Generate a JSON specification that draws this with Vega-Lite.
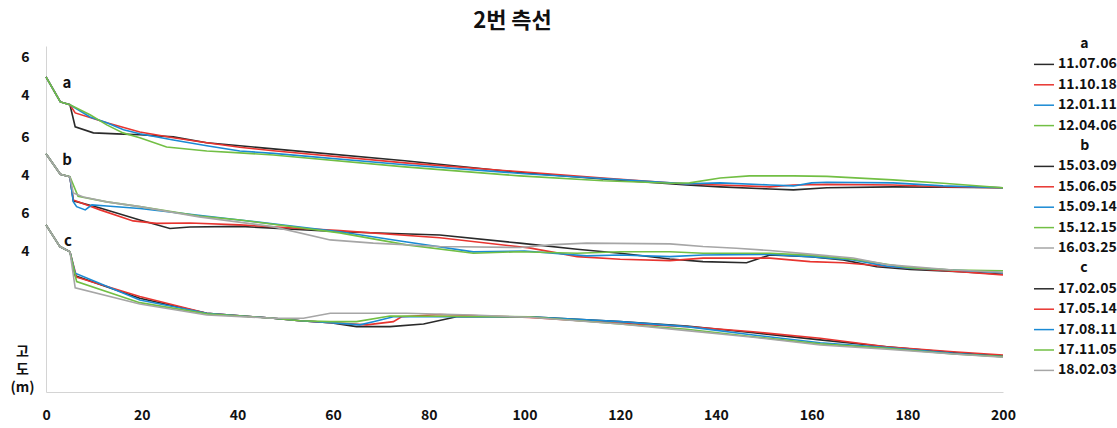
{
  "$schema": "https://vega.github.io/schema/vega-lite/v6.json",
  "width": 957,
  "height": 346,
  "autosize": {"type": "none"},
  "padding": {"left": 46, "top": 46, "right": 114, "bottom": 36},
  "background": "white",
  "title": {"text": "2번 측선", "font": "Noto Sans CJK KR", "fontSize": 22, "fontWeight": "bold", "color": "#111111", "anchor": "middle", "dx": -12, "offset": 0},
  "config": {"view": {"stroke": null}, "font": "Noto Sans CJK KR"},
  "layer": [
    {
      "data": {"values": [
        {"g":"a","d":"11.07.06","x":0,"e":4.98},{"g":"a","d":"11.07.06","x":3,"e":3.66},{"g":"a","d":"11.07.06","x":5,"e":3.51},{"g":"a","d":"11.07.06","x":6.1,"e":2.35},{"g":"a","d":"11.07.06","x":9.9,"e":2.03},{"g":"a","d":"11.07.06","x":14.8,"e":1.98},{"g":"a","d":"11.07.06","x":19.6,"e":1.93},{"g":"a","d":"11.07.06","x":26.6,"e":1.82},{"g":"a","d":"11.07.06","x":33.6,"e":1.51},{"g":"a","d":"11.07.06","x":40.5,"e":1.35},{"g":"a","d":"11.07.06","x":47.5,"e":1.19},{"g":"a","d":"11.07.06","x":75,"e":0.56},{"g":"a","d":"11.07.06","x":99,"e":-0.05},{"g":"a","d":"11.07.06","x":116.4,"e":-0.39},{"g":"a","d":"11.07.06","x":133.9,"e":-0.71},{"g":"a","d":"11.07.06","x":140.9,"e":-0.81},{"g":"a","d":"11.07.06","x":151.3,"e":-0.92},{"g":"a","d":"11.07.06","x":156.2,"e":-0.97},{"g":"a","d":"11.07.06","x":163.2,"e":-0.86},{"g":"a","d":"11.07.06","x":177,"e":-0.81},{"g":"a","d":"11.07.06","x":187.5,"e":-0.83},{"g":"a","d":"11.07.06","x":200,"e":-0.86},
        {"g":"a","d":"11.10.18","x":0,"e":4.98},{"g":"a","d":"11.10.18","x":3,"e":3.66},{"g":"a","d":"11.10.18","x":5,"e":3.51},{"g":"a","d":"11.10.18","x":6.1,"e":3.08},{"g":"a","d":"11.10.18","x":12.7,"e":2.56},{"g":"a","d":"11.10.18","x":19.6,"e":2.08},{"g":"a","d":"11.10.18","x":26.6,"e":1.77},{"g":"a","d":"11.10.18","x":33.6,"e":1.51},{"g":"a","d":"11.10.18","x":40.5,"e":1.27},{"g":"a","d":"11.10.18","x":47.5,"e":1.09},{"g":"a","d":"11.10.18","x":75,"e":0.45},{"g":"a","d":"11.10.18","x":100,"e":-0.03},{"g":"a","d":"11.10.18","x":116.4,"e":-0.34},{"g":"a","d":"11.10.18","x":133.9,"e":-0.66},{"g":"a","d":"11.10.18","x":140.9,"e":-0.71},{"g":"a","d":"11.10.18","x":151.3,"e":-0.81},{"g":"a","d":"11.10.18","x":156.2,"e":-0.71},{"g":"a","d":"11.10.18","x":163.2,"e":-0.68},{"g":"a","d":"11.10.18","x":177,"e":-0.71},{"g":"a","d":"11.10.18","x":187.5,"e":-0.8},{"g":"a","d":"11.10.18","x":200,"e":-0.86},
        {"g":"a","d":"12.01.11","x":0,"e":4.98},{"g":"a","d":"12.01.11","x":3,"e":3.66},{"g":"a","d":"12.01.11","x":5,"e":3.51},{"g":"a","d":"12.01.11","x":9.2,"e":2.87},{"g":"a","d":"12.01.11","x":12.7,"e":2.56},{"g":"a","d":"12.01.11","x":16.2,"e":2.19},{"g":"a","d":"12.01.11","x":19.6,"e":1.98},{"g":"a","d":"12.01.11","x":26.6,"e":1.66},{"g":"a","d":"12.01.11","x":33.6,"e":1.35},{"g":"a","d":"12.01.11","x":40.5,"e":1.08},{"g":"a","d":"12.01.11","x":47.5,"e":0.95},{"g":"a","d":"12.01.11","x":75,"e":0.35},{"g":"a","d":"12.01.11","x":100,"e":-0.12},{"g":"a","d":"12.01.11","x":116.4,"e":-0.37},{"g":"a","d":"12.01.11","x":133.9,"e":-0.65},{"g":"a","d":"12.01.11","x":140.9,"e":-0.6},{"g":"a","d":"12.01.11","x":151.3,"e":-0.71},{"g":"a","d":"12.01.11","x":156.2,"e":-0.76},{"g":"a","d":"12.01.11","x":160,"e":-0.6},{"g":"a","d":"12.01.11","x":163.2,"e":-0.57},{"g":"a","d":"12.01.11","x":177,"e":-0.6},{"g":"a","d":"12.01.11","x":187.5,"e":-0.76},{"g":"a","d":"12.01.11","x":200,"e":-0.86},
        {"g":"a","d":"12.04.06","x":0,"e":4.98},{"g":"a","d":"12.04.06","x":3,"e":3.66},{"g":"a","d":"12.04.06","x":5,"e":3.51},{"g":"a","d":"12.04.06","x":9.2,"e":2.98},{"g":"a","d":"12.04.06","x":12.7,"e":2.45},{"g":"a","d":"12.04.06","x":16.1,"e":2.03},{"g":"a","d":"12.04.06","x":19.6,"e":1.77},{"g":"a","d":"12.04.06","x":25.2,"e":1.29},{"g":"a","d":"12.04.06","x":33.6,"e":1.08},{"g":"a","d":"12.04.06","x":40.5,"e":0.98},{"g":"a","d":"12.04.06","x":47.5,"e":0.87},{"g":"a","d":"12.04.06","x":75,"e":0.24},{"g":"a","d":"12.04.06","x":99,"e":-0.23},{"g":"a","d":"12.04.06","x":116.4,"e":-0.49},{"g":"a","d":"12.04.06","x":131,"e":-0.62},{"g":"a","d":"12.04.06","x":134.5,"e":-0.6},{"g":"a","d":"12.04.06","x":140.9,"e":-0.34},{"g":"a","d":"12.04.06","x":147,"e":-0.23},{"g":"a","d":"12.04.06","x":156.2,"e":-0.23},{"g":"a","d":"12.04.06","x":163.2,"e":-0.26},{"g":"a","d":"12.04.06","x":177,"e":-0.44},{"g":"a","d":"12.04.06","x":187.5,"e":-0.62},{"g":"a","d":"12.04.06","x":200,"e":-0.86},
        {"g":"b","d":"15.03.09","x":0,"e":5.13},{"g":"b","d":"15.03.09","x":3,"e":4.05},{"g":"b","d":"15.03.09","x":5,"e":3.92},{"g":"b","d":"15.03.09","x":5.7,"e":2.66},{"g":"b","d":"15.03.09","x":11.3,"e":2.28},{"g":"b","d":"15.03.09","x":19.6,"e":1.65},{"g":"b","d":"15.03.09","x":25.9,"e":1.2},{"g":"b","d":"15.03.09","x":30.1,"e":1.28},{"g":"b","d":"15.03.09","x":40.5,"e":1.31},{"g":"b","d":"15.03.09","x":61.4,"e":1.03},{"g":"b","d":"15.03.09","x":82.3,"e":0.86},{"g":"b","d":"15.03.09","x":99,"e":0.43},{"g":"b","d":"15.03.09","x":111,"e":0.11},{"g":"b","d":"15.03.09","x":120,"e":-0.1},{"g":"b","d":"15.03.09","x":130.4,"e":-0.4},{"g":"b","d":"15.03.09","x":137.3,"e":-0.54},{"g":"b","d":"15.03.09","x":146.4,"e":-0.6},{"g":"b","d":"15.03.09","x":151.3,"e":-0.19},{"g":"b","d":"15.03.09","x":159.7,"e":-0.28},{"g":"b","d":"15.03.09","x":166.6,"e":-0.45},{"g":"b","d":"15.03.09","x":173.6,"e":-0.81},{"g":"b","d":"15.03.09","x":180.6,"e":-0.95},{"g":"b","d":"15.03.09","x":191,"e":-1.07},{"g":"b","d":"15.03.09","x":200,"e":-1.21},
        {"g":"b","d":"15.06.05","x":0,"e":5.13},{"g":"b","d":"15.06.05","x":3,"e":4.05},{"g":"b","d":"15.06.05","x":5,"e":3.92},{"g":"b","d":"15.06.05","x":5.7,"e":2.7},{"g":"b","d":"15.06.05","x":11.3,"e":2.18},{"g":"b","d":"15.06.05","x":18.2,"e":1.6},{"g":"b","d":"15.06.05","x":23.1,"e":1.47},{"g":"b","d":"15.06.05","x":30.1,"e":1.49},{"g":"b","d":"15.06.05","x":40.5,"e":1.39},{"g":"b","d":"15.06.05","x":61.4,"e":1.09},{"g":"b","d":"15.06.05","x":82.3,"e":0.71},{"g":"b","d":"15.06.05","x":101,"e":0.18},{"g":"b","d":"15.06.05","x":111,"e":-0.28},{"g":"b","d":"15.06.05","x":120,"e":-0.42},{"g":"b","d":"15.06.05","x":130.4,"e":-0.49},{"g":"b","d":"15.06.05","x":137.3,"e":-0.36},{"g":"b","d":"15.06.05","x":151.3,"e":-0.36},{"g":"b","d":"15.06.05","x":159.7,"e":-0.54},{"g":"b","d":"15.06.05","x":166.6,"e":-0.6},{"g":"b","d":"15.06.05","x":173.6,"e":-0.75},{"g":"b","d":"15.06.05","x":180.6,"e":-0.89},{"g":"b","d":"15.06.05","x":191,"e":-1.07},{"g":"b","d":"15.06.05","x":200,"e":-1.24},
        {"g":"b","d":"15.09.14","x":0,"e":5.13},{"g":"b","d":"15.09.14","x":3,"e":4.05},{"g":"b","d":"15.09.14","x":5,"e":3.92},{"g":"b","d":"15.09.14","x":5.7,"e":2.61},{"g":"b","d":"15.09.14","x":6.4,"e":2.35},{"g":"b","d":"15.09.14","x":8.2,"e":2.18},{"g":"b","d":"15.09.14","x":9.6,"e":2.44},{"g":"b","d":"15.09.14","x":12.7,"e":2.38},{"g":"b","d":"15.09.14","x":19.6,"e":2.25},{"g":"b","d":"15.09.14","x":40.5,"e":1.65},{"g":"b","d":"15.09.14","x":61.4,"e":1.03},{"g":"b","d":"15.09.14","x":75.4,"e":0.49},{"g":"b","d":"15.09.14","x":89.3,"e":-0.03},{"g":"b","d":"15.09.14","x":100,"e":0.02},{"g":"b","d":"15.09.14","x":113,"e":-0.24},{"g":"b","d":"15.09.14","x":120,"e":-0.19},{"g":"b","d":"15.09.14","x":130.4,"e":-0.28},{"g":"b","d":"15.09.14","x":137.3,"e":-0.19},{"g":"b","d":"15.09.14","x":151.3,"e":-0.16},{"g":"b","d":"15.09.14","x":159.7,"e":-0.28},{"g":"b","d":"15.09.14","x":168.7,"e":-0.45},{"g":"b","d":"15.09.14","x":175.7,"e":-0.78},{"g":"b","d":"15.09.14","x":180.6,"e":-0.89},{"g":"b","d":"15.09.14","x":189.6,"e":-0.98},{"g":"b","d":"15.09.14","x":200,"e":-1.12},
        {"g":"b","d":"15.12.15","x":0,"e":5.13},{"g":"b","d":"15.12.15","x":3,"e":4.05},{"g":"b","d":"15.12.15","x":5,"e":3.92},{"g":"b","d":"15.12.15","x":6.7,"e":2.9},{"g":"b","d":"15.12.15","x":12.7,"e":2.6},{"g":"b","d":"15.12.15","x":19.6,"e":2.35},{"g":"b","d":"15.12.15","x":32,"e":1.85},{"g":"b","d":"15.12.15","x":40.5,"e":1.65},{"g":"b","d":"15.12.15","x":61.4,"e":0.97},{"g":"b","d":"15.12.15","x":75.4,"e":0.34},{"g":"b","d":"15.12.15","x":89.3,"e":-0.1},{"g":"b","d":"15.12.15","x":99,"e":-0.02},{"g":"b","d":"15.12.15","x":111,"e":-0.1},{"g":"b","d":"15.12.15","x":120,"e":-0.02},{"g":"b","d":"15.12.15","x":130.4,"e":-0.02},{"g":"b","d":"15.12.15","x":137.3,"e":-0.1},{"g":"b","d":"15.12.15","x":151.3,"e":-0.1},{"g":"b","d":"15.12.15","x":159.7,"e":-0.2},{"g":"b","d":"15.12.15","x":168.7,"e":-0.42},{"g":"b","d":"15.12.15","x":175.7,"e":-0.68},{"g":"b","d":"15.12.15","x":180.6,"e":-0.86},{"g":"b","d":"15.12.15","x":189.6,"e":-0.98},{"g":"b","d":"15.12.15","x":200,"e":-1.02},
        {"g":"b","d":"16.03.25","x":0,"e":5.13},{"g":"b","d":"16.03.25","x":3,"e":4.05},{"g":"b","d":"16.03.25","x":5,"e":3.92},{"g":"b","d":"16.03.25","x":5.7,"e":3.07},{"g":"b","d":"16.03.25","x":7.8,"e":2.86},{"g":"b","d":"16.03.25","x":12.7,"e":2.6},{"g":"b","d":"16.03.25","x":19.6,"e":2.35},{"g":"b","d":"16.03.25","x":32,"e":1.81},{"g":"b","d":"16.03.25","x":47.4,"e":1.3},{"g":"b","d":"16.03.25","x":59.4,"e":0.6},{"g":"b","d":"16.03.25","x":68.4,"e":0.43},{"g":"b","d":"16.03.25","x":82.3,"e":0.25},{"g":"b","d":"16.03.25","x":99,"e":0.2},{"g":"b","d":"16.03.25","x":106,"e":0.35},{"g":"b","d":"16.03.25","x":113,"e":0.43},{"g":"b","d":"16.03.25","x":130.4,"e":0.39},{"g":"b","d":"16.03.25","x":137.3,"e":0.25},{"g":"b","d":"16.03.25","x":144.3,"e":0.16},{"g":"b","d":"16.03.25","x":151.3,"e":0.04},{"g":"b","d":"16.03.25","x":159.7,"e":-0.15},{"g":"b","d":"16.03.25","x":168.7,"e":-0.35},{"g":"b","d":"16.03.25","x":175.7,"e":-0.7},{"g":"b","d":"16.03.25","x":189.6,"e":-0.98},{"g":"b","d":"16.03.25","x":200,"e":-1.1},
        {"g":"c","d":"17.02.05","x":0,"e":5.39},{"g":"c","d":"17.02.05","x":2.9,"e":4.25},{"g":"c","d":"17.02.05","x":5,"e":3.98},{"g":"c","d":"17.02.05","x":6.1,"e":2.71},{"g":"c","d":"17.02.05","x":19.6,"e":1.53},{"g":"c","d":"17.02.05","x":33.6,"e":0.74},{"g":"c","d":"17.02.05","x":47.5,"e":0.48},{"g":"c","d":"17.02.05","x":53.1,"e":0.35},{"g":"c","d":"17.02.05","x":59.4,"e":0.25},{"g":"c","d":"17.02.05","x":64.9,"e":0.04},{"g":"c","d":"17.02.05","x":71.9,"e":0.04},{"g":"c","d":"17.02.05","x":78.9,"e":0.18},{"g":"c","d":"17.02.05","x":85.8,"e":0.56},{"g":"c","d":"17.02.05","x":101,"e":0.56},{"g":"c","d":"17.02.05","x":120,"e":0.3},{"g":"c","d":"17.02.05","x":133.9,"e":0.07},{"g":"c","d":"17.02.05","x":147.8,"e":-0.28},{"g":"c","d":"17.02.05","x":161.8,"e":-0.66},{"g":"c","d":"17.02.05","x":175.7,"e":-1.02},{"g":"c","d":"17.02.05","x":189.6,"e":-1.33},{"g":"c","d":"17.02.05","x":200,"e":-1.51},
        {"g":"c","d":"17.05.14","x":0,"e":5.39},{"g":"c","d":"17.05.14","x":2.9,"e":4.25},{"g":"c","d":"17.05.14","x":5,"e":3.98},{"g":"c","d":"17.05.14","x":6.4,"e":2.64},{"g":"c","d":"17.05.14","x":19.6,"e":1.62},{"g":"c","d":"17.05.14","x":33.6,"e":0.74},{"g":"c","d":"17.05.14","x":47.5,"e":0.48},{"g":"c","d":"17.05.14","x":53.1,"e":0.35},{"g":"c","d":"17.05.14","x":59.4,"e":0.25},{"g":"c","d":"17.05.14","x":67,"e":0.13},{"g":"c","d":"17.05.14","x":72.6,"e":0.3},{"g":"c","d":"17.05.14","x":74.3,"e":0.56},{"g":"c","d":"17.05.14","x":82.3,"e":0.68},{"g":"c","d":"17.05.14","x":101,"e":0.52},{"g":"c","d":"17.05.14","x":120,"e":0.22},{"g":"c","d":"17.05.14","x":133.9,"e":0.04},{"g":"c","d":"17.05.14","x":147.8,"e":-0.23},{"g":"c","d":"17.05.14","x":161.8,"e":-0.57},{"g":"c","d":"17.05.14","x":175.7,"e":-1.02},{"g":"c","d":"17.05.14","x":189.6,"e":-1.28},{"g":"c","d":"17.05.14","x":200,"e":-1.45},
        {"g":"c","d":"17.08.11","x":0,"e":5.39},{"g":"c","d":"17.08.11","x":2.9,"e":4.25},{"g":"c","d":"17.08.11","x":5,"e":3.98},{"g":"c","d":"17.08.11","x":6.1,"e":2.85},{"g":"c","d":"17.08.11","x":19.6,"e":1.44},{"g":"c","d":"17.08.11","x":33.6,"e":0.74},{"g":"c","d":"17.08.11","x":47.5,"e":0.48},{"g":"c","d":"17.08.11","x":53.1,"e":0.35},{"g":"c","d":"17.08.11","x":59.4,"e":0.25},{"g":"c","d":"17.08.11","x":65.6,"e":0.13},{"g":"c","d":"17.08.11","x":68.4,"e":0.3},{"g":"c","d":"17.08.11","x":72.6,"e":0.56},{"g":"c","d":"17.08.11","x":101,"e":0.56},{"g":"c","d":"17.08.11","x":120,"e":0.3},{"g":"c","d":"17.08.11","x":133.9,"e":0.04},{"g":"c","d":"17.08.11","x":147.8,"e":-0.4},{"g":"c","d":"17.08.11","x":161.8,"e":-0.81},{"g":"c","d":"17.08.11","x":175.7,"e":-1.06},{"g":"c","d":"17.08.11","x":189.6,"e":-1.37},{"g":"c","d":"17.08.11","x":200,"e":-1.54},
        {"g":"c","d":"17.11.05","x":0,"e":5.39},{"g":"c","d":"17.11.05","x":2.9,"e":4.25},{"g":"c","d":"17.11.05","x":5,"e":3.98},{"g":"c","d":"17.11.05","x":6.4,"e":2.41},{"g":"c","d":"17.11.05","x":19.6,"e":1.3},{"g":"c","d":"17.11.05","x":33.6,"e":0.71},{"g":"c","d":"17.11.05","x":47.5,"e":0.48},{"g":"c","d":"17.11.05","x":53.1,"e":0.35},{"g":"c","d":"17.11.05","x":59.4,"e":0.3},{"g":"c","d":"17.11.05","x":64.9,"e":0.3},{"g":"c","d":"17.11.05","x":71.9,"e":0.6},{"g":"c","d":"17.11.05","x":101,"e":0.56},{"g":"c","d":"17.11.05","x":120,"e":0.18},{"g":"c","d":"17.11.05","x":133.9,"e":-0.1},{"g":"c","d":"17.11.05","x":147.8,"e":-0.49},{"g":"c","d":"17.11.05","x":161.8,"e":-0.87},{"g":"c","d":"17.11.05","x":175.7,"e":-1.1},{"g":"c","d":"17.11.05","x":189.6,"e":-1.4},{"g":"c","d":"17.11.05","x":200,"e":-1.54},
        {"g":"c","d":"18.02.03","x":0,"e":5.39},{"g":"c","d":"18.02.03","x":2.9,"e":4.25},{"g":"c","d":"18.02.03","x":5,"e":3.98},{"g":"c","d":"18.02.03","x":6.1,"e":2.08},{"g":"c","d":"18.02.03","x":19.6,"e":1.23},{"g":"c","d":"18.02.03","x":33.6,"e":0.65},{"g":"c","d":"18.02.03","x":47.5,"e":0.48},{"g":"c","d":"18.02.03","x":53.8,"e":0.48},{"g":"c","d":"18.02.03","x":59.4,"e":0.74},{"g":"c","d":"18.02.03","x":75.4,"e":0.74},{"g":"c","d":"18.02.03","x":89.2,"e":0.65},{"g":"c","d":"18.02.03","x":101,"e":0.53},{"g":"c","d":"18.02.03","x":120,"e":0.18},{"g":"c","d":"18.02.03","x":133.9,"e":-0.17},{"g":"c","d":"18.02.03","x":147.8,"e":-0.52},{"g":"c","d":"18.02.03","x":161.8,"e":-0.93},{"g":"c","d":"18.02.03","x":175.7,"e":-1.15},{"g":"c","d":"18.02.03","x":189.6,"e":-1.4},{"g":"c","d":"18.02.03","x":200,"e":-1.57}
      ]},
      "transform": [
        {"calculate": "datum.g == 'a' ? 11.6 : (datum.g == 'b' ? 7.4 : 3.4)", "as": "off"},
        {"calculate": "datum.e + datum.off", "as": "y"}
      ],
      "mark": {"type": "line", "strokeWidth": 1.6},
      "encoding": {
        "x": {"field": "x", "type": "quantitative", "scale": {"domain": [0, 200], "nice": false},
          "axis": {"title": null, "values": [0,20,40,60,80,100,120,140,160,180,200], "ticks": false, "grid": false, "domainColor": "#d4d4d4", "labelFont": "Noto Sans CJK KR", "labelFontSize": 14, "labelFontWeight": "bold", "labelColor": "#111111", "labelPadding": 16, "labelFlush": false}},
        "y": {"field": "y", "type": "quantitative", "scale": {"domain": [0, 18.2], "nice": false, "zero": false},
          "axis": {"values": [17.6, 15.6, 13.4, 11.4, 9.4, 7.4], "labelExpr": "(datum.value == 17.6 || datum.value == 13.4 || datum.value == 9.4) ? '6' : '4'", "ticks": false, "grid": false, "domainColor": "#d4d4d4", "labelFont": "Noto Sans CJK KR", "labelFontSize": 14, "labelFontWeight": "bold", "labelColor": "#111111", "labelPadding": 17,
            "title": ["고", "도", "(m)"], "titleAngle": 0, "titleAlign": "center", "titleBaseline": "top", "titleX": -24, "titleY": 298, "titleFont": "Noto Sans CJK KR", "titleFontSize": 14, "titleFontWeight": "bold", "titleColor": "#111111", "titleLineHeight": 18}},
        "color": {"field": "d", "type": "nominal",
          "scale": {
            "domain": ["a","11.07.06","11.10.18","12.01.11","12.04.06","b","15.03.09","15.06.05","15.09.14","15.12.15","16.03.25","c","17.02.05","17.05.14","17.08.11","17.11.05","18.02.03"],
            "range": ["transparent","#2a2a2a","#e8342f","#1a8ad4","#72bf44","transparent","#2a2a2a","#e8342f","#1a8ad4","#72bf44","#a6a6a6","transparent","#2a2a2a","#e8342f","#1a8ad4","#72bf44","#a6a6a6"]
          },
          "legend": {"title": null, "orient": "none", "legendX": 987, "legendY": -13, "padding": 0, "symbolType": "stroke", "symbolSize": 400, "symbolStrokeWidth": 1.5, "labelFont": "Noto Sans CJK KR", "labelFontSize": 14, "labelFontWeight": "bold", "labelColor": "#111111", "labelOffset": 3, "rowPadding": 2.4, "labelLimit": 200,
            "labelExpr": "(datum.label == 'a' || datum.label == 'b' || datum.label == 'c') ? '\u200b\u00a0\u00a0\u00a0\u00a0\u00a0\u00a0\u00a0' + datum.label : datum.label"}
        }
      }
    },
    {
      "data": {"values": [
        {"g": "a", "x": 4.4, "e": 4.66},
        {"g": "b", "x": 4.4, "e": 4.81},
        {"g": "c", "x": 4.6, "e": 4.56}
      ]},
      "transform": [
        {"calculate": "datum.g == 'a' ? 11.6 : (datum.g == 'b' ? 7.4 : 3.4)", "as": "off"},
        {"calculate": "datum.e + datum.off", "as": "y"}
      ],
      "mark": {"type": "text", "font": "Noto Sans CJK KR", "fontSize": 15, "fontWeight": "bold", "color": "#111111"},
      "encoding": {
        "x": {"field": "x", "type": "quantitative"},
        "y": {"field": "y", "type": "quantitative"},
        "text": {"field": "g"}
      }
    }
  ]
}
